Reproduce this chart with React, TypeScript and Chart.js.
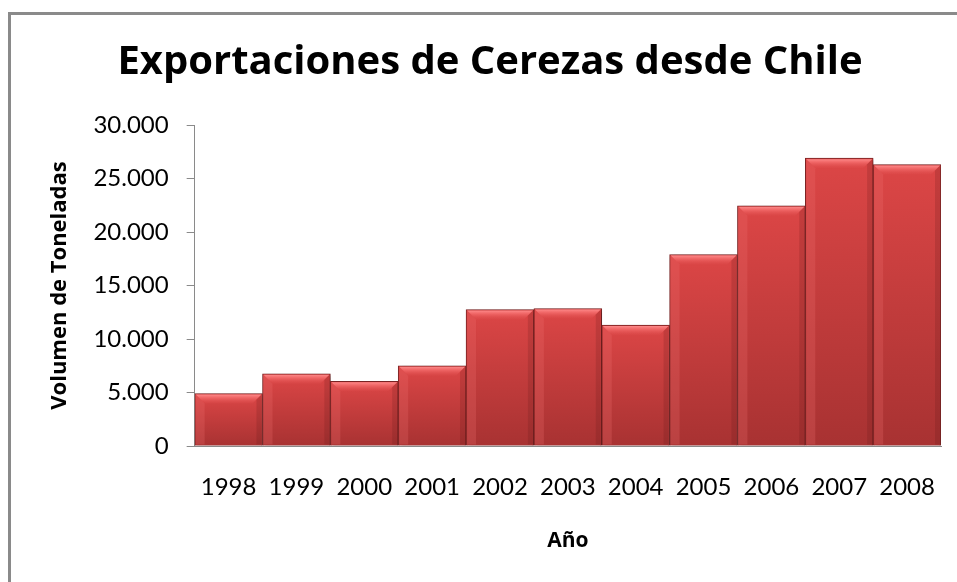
import React, { useEffect, useRef } from "react";
import { Chart, registerables } from "chart.js";

Chart.register(...registerables);

const years = ["1998", "1999", "2000", "2001", "2002", "2003", "2004", "2005", "2006", "2007", "2008"];
const volumes = [4900, 6750, 6050, 7500, 12750, 12850, 11300, 17900, 22450, 26900, 26300];
const yTickValues = [0, 5000, 10000, 15000, 20000, 25000, 30000];
const titleText = "Exportaciones de Cerezas desde Chile";
const yAxisTitle = "Volumen de Toneladas";
const xAxisTitle = "Año";

const FONT = "Lato, 'Open Sans', sans-serif";
const BOLD_FONT = "'Open Sans', Lato, sans-serif";

function formatThousands(v: number): string {
  return String(Math.round(v)).replace(/\B(?=(\d{3})+(?!\d))/g, ".");
}

const bevelPlugin = {
  id: "bevelPlugin",
  beforeDatasetsDraw(chart: any) {
    const ctx = chart.ctx;
    ctx.save();
    ctx.shadowColor = "rgba(0,0,0,0.35)";
    ctx.shadowOffsetX = 2;
    ctx.shadowOffsetY = 2;
    ctx.shadowBlur = 4;
  },
  afterDatasetsDraw(chart: any) {
    const ctx = chart.ctx;
    ctx.restore();
    const meta = chart.getDatasetMeta(0);
    meta.data.forEach((el: any) => {
      const { x, y, base, width } = el.getProps(["x", "y", "base", "width"], true);
      const left = x - width / 2 + 1;
      const right = x + width / 2 - 1;
      const top = y + 1;
      const b = 9;
      ctx.save();
      const g = ctx.createLinearGradient(0, top, 0, top + b);
      g.addColorStop(0, "rgba(255,140,140,0.95)");
      g.addColorStop(0.35, "rgba(245,110,110,0.8)");
      g.addColorStop(1, "rgba(225,80,80,0.15)");
      ctx.fillStyle = g;
      ctx.beginPath();
      ctx.moveTo(left, top);
      ctx.lineTo(right, top);
      ctx.lineTo(right - b, top + b);
      ctx.lineTo(left + b, top + b);
      ctx.closePath();
      ctx.fill();
      ctx.fillStyle = "rgba(240,110,110,0.25)";
      ctx.beginPath();
      ctx.moveTo(left, top);
      ctx.lineTo(left + b, top + b);
      ctx.lineTo(left + b, base - 1);
      ctx.lineTo(left, base - 1);
      ctx.closePath();
      ctx.fill();
      ctx.fillStyle = "rgba(90,20,20,0.18)";
      ctx.beginPath();
      ctx.moveTo(right, top);
      ctx.lineTo(right - 5, top + 5);
      ctx.lineTo(right - 5, base - 1);
      ctx.lineTo(right, base - 1);
      ctx.closePath();
      ctx.fill();
      ctx.restore();
    });
  },
};

export default function App() {
  const canvasRef = useRef<HTMLCanvasElement | null>(null);

  useEffect(() => {
    const canvas = canvasRef.current;
    if (!canvas) return;
    const chart = new Chart(canvas, {
      type: "bar",
      data: {
        labels: years,
        datasets: [
          {
            label: yAxisTitle,
            data: volumes,
            backgroundColor: (c: any) => {
              const ys = c.chart.scales && c.chart.scales.y;
              if (!ys || c.type !== "data" || typeof c.raw !== "number") return "#c83c3c";
              const t = ys.getPixelForValue(c.raw);
              const bt = ys.getPixelForValue(0);
              if (!isFinite(t) || !isFinite(bt)) return "#c83c3c";
              const g = c.chart.ctx.createLinearGradient(0, t, 0, bt);
              g.addColorStop(0, "#dc4646");
              g.addColorStop(1, "#a83232");
              return g;
            },
            borderColor: "#7e2424",
            borderWidth: 1,
            barPercentage: 1,
            categoryPercentage: 1,
          },
        ],
      },
      options: {
        responsive: false,
        animation: false,
        layout: { padding: { left: 28, right: 29, top: 0, bottom: 24 } },
        plugins: {
          legend: { display: false },
          tooltip: { enabled: false },
          title: {
            display: true,
            text: titleText,
            color: "#000",
            font: { family: BOLD_FONT, size: 40, weight: "bold" },
            padding: { top: 24, bottom: 38 },
          },
        },
        scales: {
          x: {
            grid: { display: false, drawTicks: false },
            border: { display: true, color: "#8a8a8a", width: 1 },
            ticks: {
              color: "#000",
              font: { family: FONT, size: 24 },
              padding: 27,
              maxRotation: 0,
              autoSkip: false,
            },
            title: {
              display: true,
              text: xAxisTitle,
              color: "#000",
              font: { family: BOLD_FONT, size: 21, weight: "bold" },
              padding: { top: 0, bottom: 4 },
            },
          },
          y: {
            min: 0,
            max: 30000,
            afterBuildTicks: (axis: any) => {
              axis.ticks = yTickValues.map((v) => ({ value: v }));
            },
            grid: {
              drawOnChartArea: false,
              drawTicks: true,
              tickLength: 8,
              color: "#8a8a8a",
            },
            border: { display: true, color: "#8a8a8a", width: 1 },
            ticks: {
              color: "#000",
              font: { family: FONT, size: 24 },
              padding: 18,
              callback: (v: any) => formatThousands(Number(v)),
            },
            title: {
              display: true,
              text: yAxisTitle,
              color: "#000",
              font: { family: BOLD_FONT, size: 22, weight: "bold" },
              padding: { top: 8, bottom: 2 },
            },
          },
        },
      },
      plugins: [bevelPlugin],
    });
    return () => chart.destroy();
  }, []);

  return (
    <div
      style={{
        position: "fixed",
        left: 0,
        top: 0,
        width: 957,
        height: 582,
        background: "#fff",
        overflow: "hidden",
      }}
    >
      <div
        style={{
          position: "absolute",
          left: 8,
          top: 12,
          width: 970,
          height: 600,
          borderLeft: "3px solid #8a8a8a",
          borderTop: "3px solid #8a8a8a",
          boxSizing: "border-box",
        }}
      >
        <canvas
          ref={canvasRef}
          width={959}
          height={567}
          style={{ position: "absolute", left: 0, top: 0, width: 959, height: 567 }}
        />
      </div>
    </div>
  );
}
